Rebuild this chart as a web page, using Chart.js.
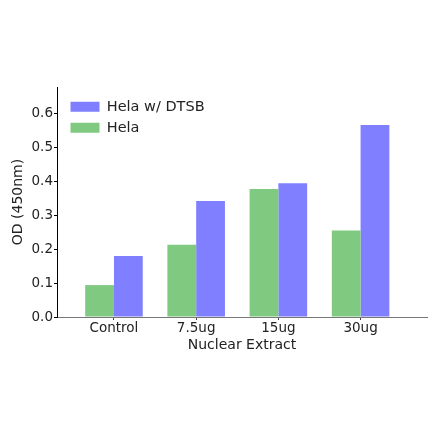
<!DOCTYPE html>
<html>
<head>
<meta charset="utf-8">
<script src="https://cdn.jsdelivr.net/npm/chart.js@4.4.0/dist/chart.umd.min.js"></script>
<style>
  html, body { margin: 0; padding: 0; background: #fff; }
  #wrap { width: 440px; height: 441px; position: relative; }
</style>
</head>
<body>
<div id="wrap"><canvas id="odChart"></canvas></div>
<script>
// values
const categories = ['Control', '7.5ug', '15ug', '30ug'];
const helaValues = [0.094, 0.213, 0.377, 0.255];
const dtsbValues = [0.180, 0.342, 0.394, 0.566];
const yTicks = [0.0, 0.1, 0.2, 0.3, 0.4, 0.5, 0.6];

const fontFamily = "'DejaVu Sans', 'Liberation Sans', sans-serif";
Chart.defaults.font.family = fontFamily;
Chart.defaults.color = '#222';

// put the legend inside the plot area, a little off the corner
const legendNudge = {
  id: 'legendNudge',
  afterLayout(chart) {
    const lg = chart.legend;
    const area = chart.chartArea;
    if (lg && area) {
      lg.left = area.left + 7;
      lg.top = area.top + 6;
      lg.bottom = area.bottom;
    }
  }
};

function points(vals) {
  return vals.map((v, i) => ({ x: i, y: v }));
}

const data = {
  datasets: [
    {
      label: 'Hela',
      data: points(helaValues),
      backgroundColor: '#80c980',
      borderWidth: 0
    },
    {
      label: 'Hela w/ DTSB',
      data: points(dtsbValues),
      backgroundColor: '#7f7fff',
      borderWidth: 0
    }
  ]
};

const config = {
  type: 'bar',
  data: data,
  options: {
    responsive: true,
    maintainAspectRatio: false,
    animation: false,
    categoryPercentage: 0.7,
    barPercentage: 1.0,
    layout: {
      padding: { left: 10, right: 13, top: 87, bottom: 87 }
    },
    plugins: {
      legend: {
        position: 'chartArea',
        align: 'start',
        reverse: true,
        labels: {
          boxWidth: 29,
          boxHeight: 10,
          padding: 6.5,
          color: '#222',
          font: { size: 14.5 }
        }
      },
      tooltip: { enabled: false }
    },
    scales: {
      x: {
        type: 'linear',
        offset: false,
        min: -0.693,
        max: 3.808,
        afterBuildTicks: scale => {
          scale.ticks = categories.map((c, i) => ({ value: i }));
        },
        afterFit: scale => { scale.height = 37; },
        ticks: {
          padding: 0,
          font: { size: 13.5 },
          callback: v => categories[v]
        },
        grid: {
          offset: false,
          drawOnChartArea: false,
          drawTicks: true,
          tickLength: 3,
          color: '#444'
        },
        border: { color: '#777', width: 1 },
        title: {
          display: true,
          text: 'Nuclear Extract',
          font: { size: 14 },
          padding: 0
        }
      },
      y: {
        min: 0,
        max: 0.678,
        afterBuildTicks: scale => {
          scale.ticks = yTicks.map(v => ({ value: v }));
        },
        afterFit: scale => { scale.width = 47; },
        ticks: {
          padding: 1,
          font: { size: 13.5 },
          callback: v => v.toFixed(1)
        },
        grid: {
          drawOnChartArea: false,
          drawTicks: true,
          tickLength: 3,
          color: '#000'
        },
        border: { color: '#000', width: 1 },
        title: {
          display: true,
          text: 'OD (450nm)',
          font: { size: 14 },
          padding: 0
        }
      }
    }
  },
  plugins: [legendNudge]
};

const odChart = new Chart(document.getElementById('odChart'), config);
</script>
</body>
</html>
